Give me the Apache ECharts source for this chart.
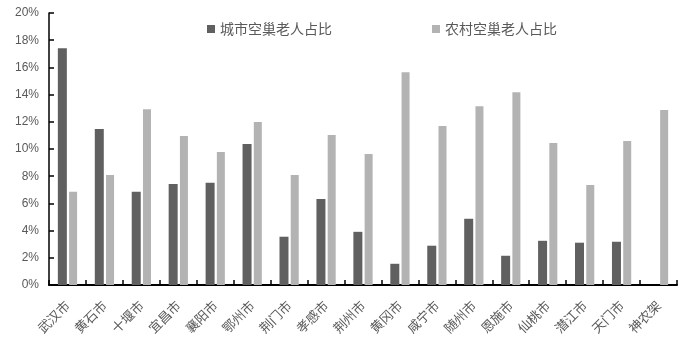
<!DOCTYPE html>
<html><head><meta charset="utf-8">
<script src="https://cdn.jsdelivr.net/npm/echarts@6/dist/echarts.min.js"></script>
<style>html,body{margin:0;padding:0;background:#fff}#c{width:692px;height:363px}</style>
</head><body><div id="c"></div>
<script>
const categories = ['武汉市','黄石市','十堰市','宜昌市','襄阳市','鄂州市','荆门市','孝感市','荆州市','黄冈市','咸宁市','随州市','恩施市','仙桃市','潜江市','天门市','神农架'];
const cityValues = [17.4, 11.47, 6.85, 7.43, 7.51, 10.37, 3.55, 6.33, 3.91, 1.56, 2.89, 4.87, 2.15, 3.25, 3.11, 3.18, null];
const ruralValues = [6.85, 8.09, 12.93, 10.95, 9.78, 11.98, 8.09, 11.03, 9.63, 15.65, 11.69, 13.15, 14.18, 10.44, 7.36, 10.59, 12.86];
const seriesNames = ['城市空巢老人占比','农村空巢老人占比'];
const yTicks = [0,2,4,6,8,10,12,14,16,18,20];

const font = '"Noto Sans CJK SC","Microsoft YaHei",sans-serif';
const chart = echarts.init(document.getElementById('c'), null, {renderer:'canvas'});
chart.setOption({
  animation:false,
  backgroundColor:'#fff',
  textStyle:{fontFamily:font},
  legend:{
    top:17, left:202, itemGap:100,
    itemWidth:8, itemHeight:8, icon:'rect',
    textStyle:{fontSize:14, color:'#595959', fontFamily:font},
    data:seriesNames
  },
  grid:{left:49, right:15, top:13, bottom:78},
  xAxis:{
    type:'category', data:categories,
    axisLine:{lineStyle:{color:'#000', width:2}},
    axisTick:{show:true, inside:true, length:5, lineStyle:{color:'#000', width:1.5}},
    axisLabel:{rotate:45, fontSize:13, color:'#595959', margin:18, interval:0, fontFamily:font},
    splitLine:{show:false}
  },
  yAxis:{
    type:'value', min:yTicks[0], max:yTicks[yTicks.length-1], interval:2,
    axisLine:{show:true, lineStyle:{color:'#000', width:1.5}},
    axisTick:{show:true, inside:true, length:5, lineStyle:{color:'#000', width:1.5}},
    axisLabel:{formatter:v=>v+'%', fontSize:12, color:'#595959', margin:10, fontFamily:'"Liberation Sans",Arial,sans-serif'},
    splitLine:{show:false}
  },
  series:[
    {name:seriesNames[0], type:'bar', data:cityValues, barWidth:9, barGap:'25%', itemStyle:{color:'#606060'}},
    {name:seriesNames[1], type:'bar', data:ruralValues, barWidth:8, barGap:'25%', itemStyle:{color:'#b3b3b3'}}
  ]
});
</script></body></html>
